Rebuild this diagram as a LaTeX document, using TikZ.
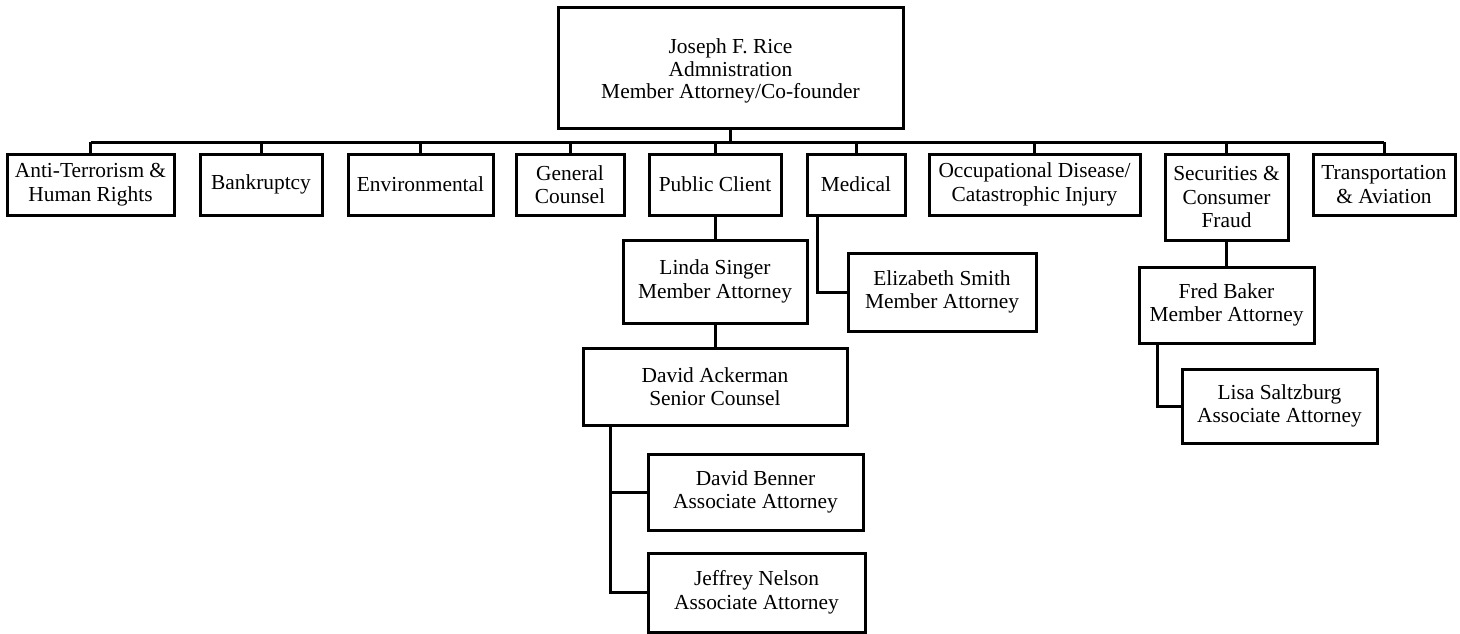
\documentclass[tikz,border=0pt]{standalone}
\usepackage{fontspec}
\setmainfont{Liberation Serif}
\begin{document}
\begin{tikzpicture}[x=1pt,y=-1pt,
  box/.style={draw, line width=3pt, align=center, inner sep=0pt,
    font=\fontsize{21.4}{23.5}\selectfont},
  link/.style={line width=3pt}]
\useasboundingbox (0,0) rectangle (1460,633);
\node[box, minimum width=345, minimum height=121] (top) at (730.5,67.5) {\raisebox{-4pt}[\height][\depth]{\begin{tabular}{@{}c@{}}Joseph F. Rice\\[-1pt]Admnistration\\[-1pt]Member Attorney/Co-founder\end{tabular}}};
\node[box, minimum width=167, minimum height=61] (anti) at (90.5,184.5) {Anti-Terrorism \&\\Human Rights};
\node[box, minimum width=122, minimum height=61] (bank) at (261,184.5) {Bankruptcy};
\node[box, minimum width=145, minimum height=61] (env) at (420.5,184.5) {Environmental};
\node[box, minimum width=108, minimum height=61] (gen) at (570,184.5) {General\\Counsel};
\node[box, minimum width=132, minimum height=61] (pub) at (715,184.5) {Public Client};
\node[box, minimum width=98, minimum height=61] (med) at (856,184.5) {Medical};
\node[box, minimum width=211, minimum height=61] (occ) at (1034.5,184.5) {Occupational Disease/\\Catastrophic Injury};
\node[box, minimum width=123, minimum height=86] (sec) at (1226.5,197) {Securities \&\\Consumer\\Fraud};
\node[box, minimum width=142, minimum height=61] (trans) at (1384,184.5) {Transportation\\\& Aviation};
\node[box, minimum width=184, minimum height=83] (linda) at (715,281.5) {Linda Singer\\Member Attorney};
\node[box, minimum width=188, minimum height=78] (eliz) at (942,292) {Elizabeth Smith\\Member Attorney};
\node[box, minimum width=264, minimum height=77] (ack) at (715,386.5) {David Ackerman\\Senior Counsel};
\node[box, minimum width=215, minimum height=76] (benner) at (755.5,492) {David Benner\\Associate Attorney};
\node[box, minimum width=217, minimum height=79] (nelson) at (756.5,592.5) {Jeffrey Nelson\\Associate Attorney};
\node[box, minimum width=175, minimum height=76] (fred) at (1226.5,305) {Fred Baker\\Member Attorney};
\node[box, minimum width=195, minimum height=74] (lisa) at (1279.5,406) {Lisa Saltzburg\\Associate Attorney};
\coordinate (bus) at (730.5,142);
\draw[link] (top.south) -- (bus);
\draw[link] (anti.north |- bus) -- (trans.north |- bus);
\foreach \n in {anti,bank,env,gen,pub,med,occ,sec,trans}
  \draw[link] (\n.north) -- (\n.north |- bus);
\draw[link] (pub.south) -- (linda.north);
\draw[link] ([xshift=-39pt]med.south) |- (eliz.west);
\draw[link] (linda.south) -- (ack.north);
\draw[link] ([xshift=-105pt]ack.south) |- (benner.west);
\draw[link] ([xshift=-105pt]ack.south) |- (nelson.west);
\draw[link] (sec.south) -- (fred.north);
\draw[link] ([xshift=-69.5pt]fred.south) |- (lisa.west);
\end{tikzpicture}
\end{document}
